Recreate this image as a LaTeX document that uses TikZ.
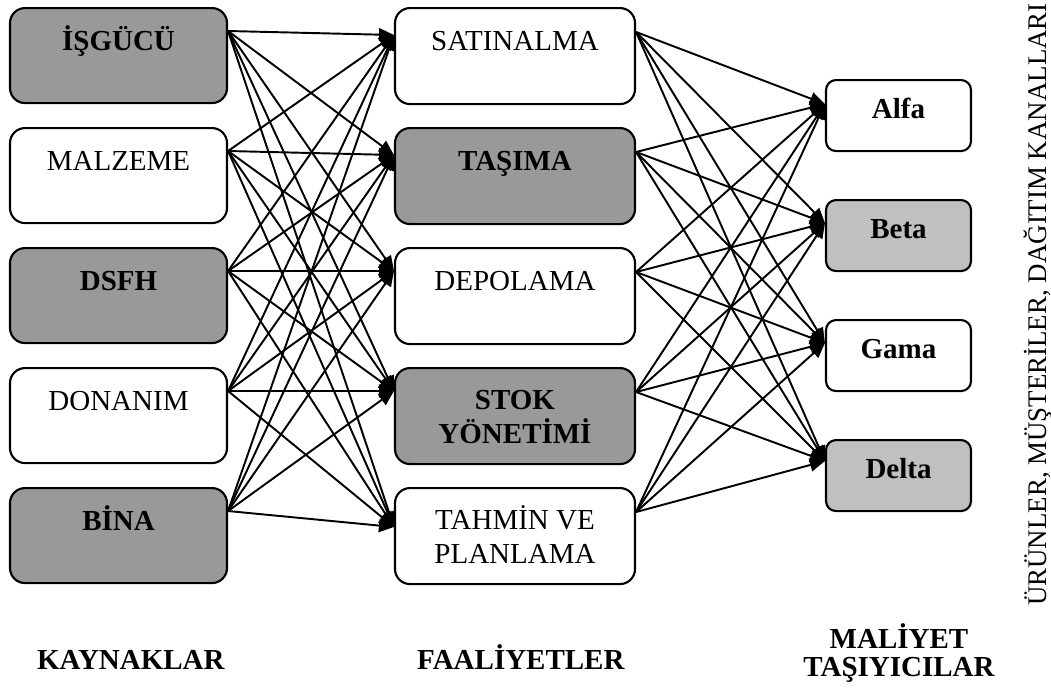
\documentclass[tikz,border=0pt]{standalone}
\usepackage{fontspec}
\setmainfont{Liberation Serif}
\usetikzlibrary{arrows.meta}
\definecolor{koyugri}{HTML}{999999}
\definecolor{acikgri}{HTML}{C0C0C0}
\tikzset{
 kaynak/.style={draw, rectangle, rounded corners=0.3cm, line width=1.2pt, minimum height=1.9cm, minimum width=4.34cm, anchor=north},
 faaliyet/.style={draw, rectangle, rounded corners=0.3cm, line width=1.2pt, minimum height=1.92cm, minimum width=4.8cm, anchor=north},
 tasiyici/.style={draw, rectangle, rounded corners=0.2cm, line width=1.2pt, minimum height=1.42cm, minimum width=2.9cm, anchor=north},
 yazi/.style={anchor=base, align=center, inner sep=0pt},
 ok/.style={line width=1.1pt, -{Triangle[length=0.3cm,width=0.26cm]}}
}
\begin{document}
\begin{tikzpicture}[font=\fontsize{16.5}{18.8}\selectfont]
 \useasboundingbox (0,0) rectangle (21.02,-13.9);

 % kaynaklar
 \node[kaynak, fill=koyugri] (isgucu) at (2.37,-0.14) {};
 \node[kaynak] (malzeme) at (2.37,-2.54) {};
 \node[kaynak, fill=koyugri] (dsfh) at (2.37,-4.94) {};
 \node[kaynak] (donanim) at (2.37,-7.34) {};
 \node[kaynak, fill=koyugri] (bina) at (2.37,-9.74) {};
 \node[yazi] (isgucu-t) at ([yshift=-0.86cm]isgucu.north) {\textbf{İŞGÜCÜ}};
 \node[yazi] (malzeme-t) at ([yshift=-0.86cm]malzeme.north) {MALZEME};
 \node[yazi] (dsfh-t) at ([yshift=-0.86cm]dsfh.north) {\textbf{DSFH}};
 \node[yazi] (donanim-t) at ([yshift=-0.86cm]donanim.north) {DONANIM};
 \node[yazi] (bina-t) at ([yshift=-0.86cm]bina.north) {\textbf{BİNA}};

 % faaliyetler
 \node[faaliyet] (satinalma) at (10.3,-0.14) {};
 \node[faaliyet, fill=koyugri] (tasima) at (10.3,-2.54) {};
 \node[faaliyet] (depolama) at (10.3,-4.94) {};
 \node[faaliyet, fill=koyugri] (stok) at (10.3,-7.34) {};
 \node[faaliyet] (tahmin) at (10.3,-9.74) {};
 \node[yazi] (satinalma-t) at ([yshift=-0.86cm]satinalma.north) {SATINALMA};
 \node[yazi] (tasima-t) at ([yshift=-0.86cm]tasima.north) {\textbf{TAŞIMA}};
 \node[yazi] (depolama-t) at ([yshift=-0.86cm]depolama.north) {DEPOLAMA};
 % iki satirli yazilarda base son satirda
 \node[yazi, font=\fontsize{16.5}{18.8}\selectfont\bfseries] (stok-t) at ([yshift=-1.52cm]stok.north) {STOK\\YÖNETİMİ};
 \node[yazi] (tahmin-t) at ([yshift=-1.52cm]tahmin.north) {TAHMİN VE\\PLANLAMA};

 % maliyet tasiyicilar
 \node[tasiyici] (alfa) at (17.97,-1.58) {};
 \node[tasiyici, fill=acikgri] (beta) at (17.97,-3.98) {};
 \node[tasiyici] (gama) at (17.97,-6.38) {};
 \node[tasiyici, fill=acikgri] (delta) at (17.97,-8.78) {};
 \node[yazi] (alfa-t) at ([yshift=-0.78cm]alfa.north) {\textbf{Alfa}};
 \node[yazi] (beta-t) at ([yshift=-0.78cm]beta.north) {\textbf{Beta}};
 \node[yazi] (gama-t) at ([yshift=-0.78cm]gama.north) {\textbf{Gama}};
 \node[yazi] (delta-t) at ([yshift=-0.78cm]delta.north) {\textbf{Delta}};

 % baglanti noktalari
 \coordinate (isgucu-o) at ([yshift=-0.48cm]isgucu.north east);
 \coordinate (malzeme-o) at ([yshift=-0.48cm]malzeme.north east);
 \coordinate (dsfh-o) at ([yshift=-0.48cm]dsfh.north east);
 \coordinate (donanim-o) at ([yshift=-0.48cm]donanim.north east);
 \coordinate (bina-o) at ([yshift=-0.48cm]bina.north east);
 \coordinate (satinalma-i) at ([yshift=-0.56cm]satinalma.north west);
 \coordinate (tasima-i) at ([yshift=-0.56cm]tasima.north west);
 \coordinate (depolama-i) at ([yshift=-0.48cm]depolama.north west);
 \coordinate (stok-i) at ([yshift=-0.48cm]stok.north west);
 \coordinate (tahmin-i) at ([yshift=-0.8cm]tahmin.north west);
 \coordinate (satinalma-o) at ([yshift=-0.5cm]satinalma.north east);
 \coordinate (tasima-o) at ([yshift=-0.5cm]tasima.north east);
 \coordinate (depolama-o) at ([yshift=-0.5cm]depolama.north east);
 \coordinate (stok-o) at ([yshift=-0.5cm]stok.north east);
 \coordinate (tahmin-o) at ([yshift=-0.5cm]tahmin.north east);
 \coordinate (alfa-i) at ([yshift=-0.5cm]alfa.north west);
 \coordinate (beta-i) at ([yshift=-0.48cm]beta.north west);
 \coordinate (gama-i) at ([yshift=-0.48cm]gama.north west);
 \coordinate (delta-i) at ([yshift=-0.44cm]delta.north west);

 \foreach \k in {isgucu,malzeme,dsfh,donanim,bina}
  \foreach \f in {satinalma,tasima,depolama,stok,tahmin}
   \draw[ok] (\k-o) -- (\f-i);
 \foreach \f in {satinalma,tasima,depolama,stok,tahmin}
  \foreach \m in {alfa,beta,gama,delta}
   \draw[ok] (\f-o) -- (\m-i);

 % alt basliklar
 \node[yazi] (kaynaklar) at (2.62,-13.38) {\textbf{KAYNAKLAR}};
 \node[yazi] (faaliyetler) at (10.42,-13.38) {\textbf{FAALİYETLER}};
 \node[yazi, font=\fontsize{16.5}{15.8}\selectfont\bfseries] (maliyet) at (17.98,-13.52) {MALİYET\\TAŞIYICILAR};
 \node[yazi, rotate=90, font=\fontsize{15.3}{18}\selectfont] (urunler) at (20.92,-6.09) {ÜRÜNLER, MÜŞTERİLER, DAĞITIM KANALLARI};
\end{tikzpicture}
\end{document}
